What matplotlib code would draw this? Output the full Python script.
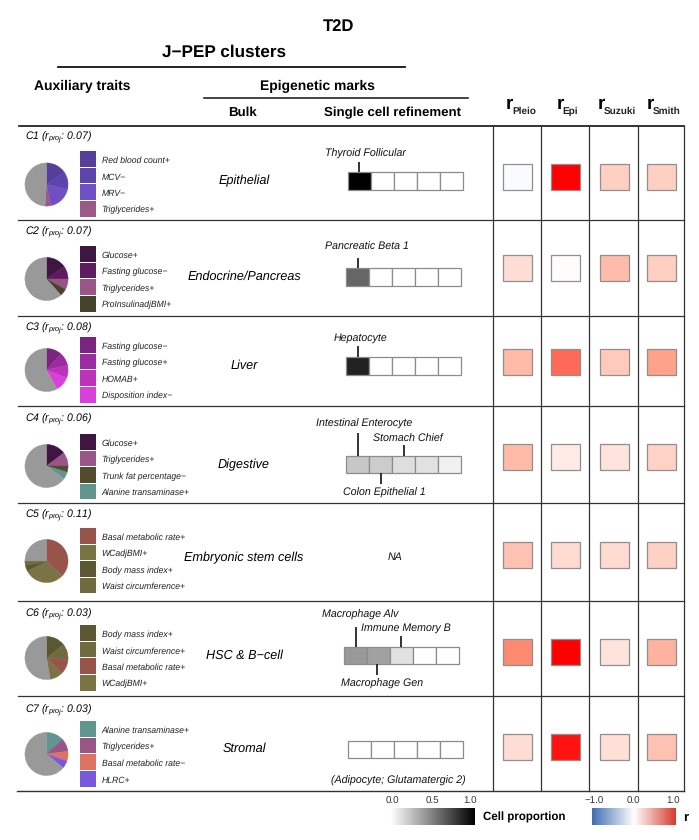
import matplotlib
matplotlib.use('Agg')
import matplotlib.pyplot as plt
import numpy as np
from matplotlib.colors import LinearSegmentedColormap

plt.rcParams['font.family'] = ['Liberation Sans', 'DejaVu Sans']
plt.rcParams['mathtext.fontset'] = 'custom'
plt.rcParams['mathtext.it'] = 'Liberation Sans:italic'
plt.rcParams['mathtext.bf'] = 'Liberation Sans:bold'
plt.rcParams['mathtext.rm'] = 'Liberation Sans'
plt.rcParams['text.hinting'] = 'none'

# ---------------------- data
clusters = ['C1', 'C2', 'C3', 'C4', 'C5', 'C6', 'C7']
r_proj = ['0.07', '0.07', '0.08', '0.06', '0.11', '0.03', '0.03']
bulk = ['Epithelial', 'Endocrine/Pancreas', 'Liver', 'Digestive',
        'Embryonic stem cells', 'HSC & B\u2212cell', 'Stromal']

traits = [
    ['Red blood count+', 'MCV\u2212', 'MRV\u2212', 'Triglycerides+'],
    ['Glucose+', 'Fasting glucose\u2212', 'Triglycerides+', 'ProInsulinadjBMI+'],
    ['Fasting glucose\u2212', 'Fasting glucose+', 'HOMAB+', 'Disposition index\u2212'],
    ['Glucose+', 'Triglycerides+', 'Trunk fat percentage\u2212', 'Alanine transaminase+'],
    ['Basal metabolic rate+', 'WCadjBMI+', 'Body mass index+', 'Waist circumference+'],
    ['Body mass index+', 'Waist circumference+', 'Basal metabolic rate+', 'WCadjBMI+'],
    ['Alanine transaminase+', 'Triglycerides+', 'Basal metabolic rate\u2212', 'HLRC+'],
]
trait_share = [
    [0.153, 0.133, 0.183, 0.042],
    [0.153, 0.097, 0.081, 0.053],
    [0.114, 0.100, 0.094, 0.111],
    [0.147, 0.103, 0.047, 0.053],
    [0.369, 0.306, 0.042, 0.033],
    [0.144, 0.120, 0.108, 0.100],
    [0.133, 0.097, 0.075, 0.056],
]
rest_share = [0.489, 0.616, 0.581, 0.650, 0.250, 0.528, 0.639]

trait_colors = [
    ['#553f99', '#5e45ab', '#6f50c4', '#995a88'],
    ['#3f1542', '#5f1b60', '#985585', '#45432a'],
    ['#7a2480', '#9c2aa0', '#bb32bb', '#d940d9'],
    ['#3f1542', '#985585', '#514c2d', '#60968f'],
    ['#98534a', '#7a7445', '#5c5733', '#6f6a3f'],
    ['#5c5733', '#6f6a3f', '#98534a', '#7a7445'],
    ['#60968f', '#985585', '#dd7262', '#7a58dd'],
]

cell_prop = [
    [1.0, 0, 0, 0, 0],
    [0.6, 0, 0, 0, 0],
    [0.87, 0, 0, 0, 0],
    [0.22, 0.20, 0.13, 0.12, 0.06],
    None,
    [0.40, 0.37, 0.12, 0, 0],
    [0, 0, 0, 0, 0],
]

r_names = ['Pleio', 'Epi', 'Suzuki', 'Smith']
r_pleio = [-0.03, 0.17, 0.34, 0.34, 0.30, 0.55, 0.17]
r_epi = [1.0, 0.02, 0.65, 0.10, 0.18, 1.0, 0.93]
r_suzuki = [0.24, 0.33, 0.26, 0.14, 0.18, 0.14, 0.16]
r_smith = [0.24, 0.24, 0.46, 0.22, 0.23, 0.38, 0.30]

# ---------------------- layout, in pixels of the 699x840 picture
W, H = 699, 840
row_lines = [219.5, 315.5, 406, 503, 601, 695.5]
title_y = [136, 231, 327, 418, 514, 613, 709]
pie_y = [184.5, 279, 370, 466, 561, 658, 754]
swatch_y = [159, 254, 345, 441.7, 535.7, 633, 729]
bulk_y = [179, 275, 364, 463, 556, 654, 747]
tile_y = [176.5, 268, 362, 456.7, 555, 651.7, 746.7]
tile_x = [517, 565.5, 614, 661.5]
grid_x = [493, 541, 589, 638, 684]
bar_left = [348, 345.7, 346, 346.3, None, 344, 347.6]
bar_top = [172.3, 268.3, 357.3, 455.7, None, 646.7, 740.7]

# (text, x, y) for the labels round each cell bar
bar_labels = [
    ('Thyroid Follicular', 365, 152),
    ('Pancreatic Beta 1', 367, 246),
    ('Hepatocyte', 361, 336),
    ('Intestinal Enterocyte', 364.5, 422),
    ('Stomach Chief', 408, 438),
    ('Colon Epithelial 1', 384, 491),
    ('NA', 395.5, 556),
    ('Macrophage Alv', 360, 613),
    ('Immune Memory B', 405.5, 626),
    ('Macrophage Gen', 382, 682),
    ('(Adipocyte; Glutamatergic 2)', 398.5, 779),
]
# (x, y from, y to) of the little marks on the bars
bar_marks = [
    (359, 162, 172), (357.5, 257.7, 268), (358, 346, 357),
    (358, 433, 456), (404, 445, 456), (380.5, 473, 484),
    (355.5, 626.7, 647), (401.3, 636, 647), (377.3, 664, 675),
]
# left edge of the r and of its subscript in the column headers
r_head_x = [506, 557, 598, 647]
r_sub_x = [512, 562.5, 604, 652.5]

tile_cmap = LinearSegmentedColormap.from_list(
    'tile', [(0, '#3b6cb3'), (0.5, '#ffffff'), (0.75, '#ff9a80'), (1, '#ff0000')])
legend_cmap = LinearSegmentedColormap.from_list(
    'legend_r', [(0, '#3f6db0'), (0.5, '#ffffff'), (1, '#d73a2c')])
gray_cmap = LinearSegmentedColormap.from_list('cell', ['#ffffff', '#000000'])

fig = plt.figure(figsize=(W / 100, H / 100), dpi=100)
ax = fig.add_axes([0, 0, 1, 1])
ax.set_axis_off()

LINE = '#333333'
TEXT_DY = 1.5  # va=center sits a bit high


def label(x, y, s, **kw):
    kw.setdefault('ha', 'center')
    ax.text(x, y + TEXT_DY, s, va='center', **kw)


# ---------------------- headers
label(339, 25, 'T2D', fontsize=12, fontweight='bold')
label(224, 51, 'J\u2212PEP clusters', fontsize=12.3, fontweight='bold')
ax.plot([58, 405], [67, 67], color='#111111', lw=1.3)
label(82, 85, 'Auxiliary traits', fontsize=10, fontweight='bold')
label(317, 85, 'Epigenetic marks', fontsize=10, fontweight='bold')
ax.plot([204, 468], [98, 98], color='#111111', lw=1.1)
label(242, 111, 'Bulk', fontsize=9.5, fontweight='bold')
label(392.5, 111, 'Single cell refinement', fontsize=9.5, fontweight='bold')
for name, x, sx in zip(r_names, r_head_x, r_sub_x):
    ax.text(x, 109, 'r', fontsize=13.5, fontweight='bold', ha='left', va='baseline')
    ax.text(sx, 114, name, fontsize=7.2, fontweight='bold', color='#222222', ha='left', va='baseline')

# ---------------------- table rules
ax.plot([19, 684], [126, 126], color='#111111', lw=1.2)
for y in row_lines:
    ax.plot([18, 684], [y, y], color=LINE, lw=0.9)
ax.plot([17, 684], [790.5, 790.5], color=LINE, lw=1.0)
for x in grid_x:
    ax.plot([x, x], [126, 790.5], color=LINE, lw=0.9)

# ---------------------- rows
r_table = np.array([r_pleio, r_epi, r_suzuki, r_smith])
for i in range(len(clusters)):
    ax.text(25, title_y[i] + 3.5, r'%s ($\mathit{r}_{\mathit{proj}}$: %s)' % (clusters[i], r_proj[i]),
            fontsize=7.6, style='italic', ha='left', va='baseline')
    label(244, bulk_y[i], bulk[i], fontsize=9.1, style='italic')

    for j in range(4):
        sy = swatch_y[i] + j * 16.6
        ax.bar(87.5, 15.6, width=16, bottom=sy - 7.8, color=trait_colors[i][j], linewidth=0)
        label(101.5, sy, traits[i][j], fontsize=6.2, style='italic', color='#222222', ha='left')

    pie_ax = fig.add_axes([(46.5 - 22) / W, 1 - (pie_y[i] + 22) / H, 44 / W, 44 / H])
    wedges = pie_ax.pie(trait_share[i] + [rest_share[i]], colors=trait_colors[i] + ['#999999'],
                        startangle=90, counterclock=False, radius=1)[0]
    for w in wedges:
        w.set_edgecolor(w.get_facecolor())
        w.set_linewidth(0.3)
    pie_ax.set_xlim(-1.02, 1.02)
    pie_ax.set_ylim(-1.02, 1.02)

    # cell proportion bar
    if cell_prop[i] is not None:
        for k, p in enumerate(cell_prop[i]):
            ax.bar(bar_left[i] + 23 * (k + 0.5), 17.6, width=23, bottom=bar_top[i],
                   color=gray_cmap(p), edgecolor='#8c8c8c', linewidth=0.9)

    # r tiles
    for j in range(4):
        ax.bar(tile_x[j], 26, width=29, bottom=tile_y[i] - 13,
               color=tile_cmap((r_table[j][i] + 1) / 2), edgecolor='#8f8f8f', linewidth=0.9)

for text, x, y in bar_labels:
    label(x, y, text, fontsize=7.7, style='italic', color='#111111')
for x, y0, y1 in bar_marks:
    ax.plot([x, x], [y0, y1], color='#111111', lw=1.2, solid_capstyle='butt')

# ---------------------- colour legends
cell_ticks = [0.0, 0.5, 1.0]
r_ticks = [-1.0, 0.0, 1.0]
ax.imshow(np.linspace(0, 1, 256).reshape(1, -1), cmap=gray_cmap, vmin=0, vmax=1,
          extent=[390.7, 474, 825, 808], aspect='auto')
ax.imshow(np.linspace(-1, 1, 256).reshape(1, -1), cmap=legend_cmap, vmin=-1, vmax=1,
          extent=[592, 675.7, 825, 808], aspect='auto')
for v, x in zip(cell_ticks, [392, 432.7, 470]):
    label(x, 800, '%.1f' % v, fontsize=7, color='#333333')
for v, x in zip(r_ticks, [594, 633, 673]):
    label(x, 800, ('%.1f' % v).replace('-', '\u2212'), fontsize=7, color='#333333')
label(524, 816, 'Cell proportion', fontsize=8.3, fontweight='bold')
label(686, 816, 'r', fontsize=9.5, fontweight='bold')

ax.set_xlim(0, W)
ax.set_ylim(H, 0)

fig.savefig('out.png', dpi=100)
